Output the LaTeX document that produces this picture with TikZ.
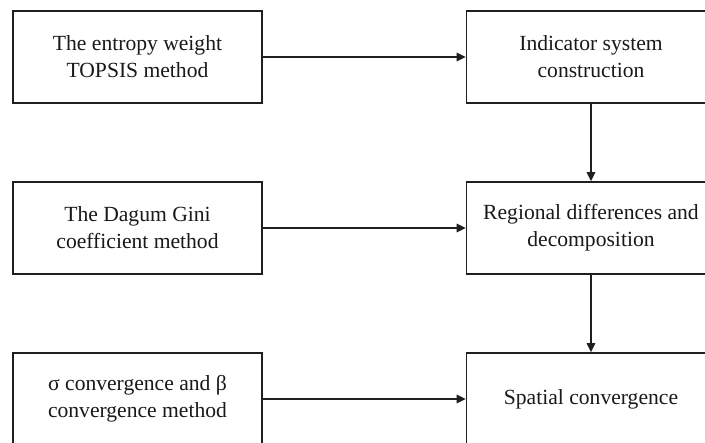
\documentclass[tikz,border=0pt]{standalone}
\usepackage{fontspec}
\setmainfont{Liberation Serif}
\usetikzlibrary{arrows.meta}
\begin{document}
\begin{tikzpicture}[x=1pt,y=-1pt,
  box/.style={draw=black!88, line width=1.6pt, minimum width=249pt, minimum height=92pt,
    inner sep=0pt, align=center, text=black!90,
    font=\fontsize{21.6}{27}\selectfont},
  conn/.style={draw=black!88, line width=1.6pt, -{Triangle[length=9pt,width=8.5pt]}}]
\useasboundingbox (0,0) rectangle (705,443);
\clip (0,0) rectangle (705,443);
\fill[white] (0,0) rectangle (705,443);
\node[box] (l1) at (137.5,57) {The entropy weight\\TOPSIS method};
\node[box] (l2) at (137.5,228) {The Dagum Gini\\coefficient method};
\node[box] (l3) at (137.5,399) {σ convergence and β\\convergence method};
\node[box] (r1) at (591,57) {Indicator system\\construction};
\node[box] (r2) at (591,228) {Regional differences and\\decomposition};
\node[box] (r3) at (591,399) {Spatial convergence};
\draw[conn] (l1) -- (r1);
\draw[conn] (l2) -- (r2);
\draw[conn] (l3) -- (r3);
\draw[conn] (r1) -- (r2);
\draw[conn] (r2) -- (r3);
\end{tikzpicture}
\end{document}
